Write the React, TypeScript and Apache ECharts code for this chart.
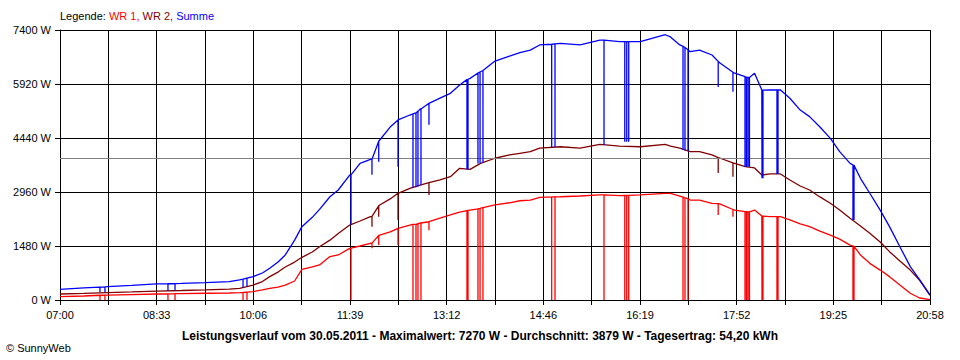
import React, { useEffect, useRef } from 'react';
import * as echarts from 'echarts';

// ---- axis / labels ----
const xTickLabels = ['07:00', '08:33', '10:06', '11:39', '13:12', '14:46', '16:19', '17:52', '19:25', '20:58'];
const totalMinutes = 838; // 07:00 .. 20:58
const gridSteps = 18;
const yMax = 7400;
const yInterval = 1480;
const average = 3879;

const legendText = ['Legende: ', 'WR 1, ', 'WR 2, ', 'Summe'];
const titleText = 'Leistungsverlauf vom 30.05.2011 - Maximalwert: 7270 W - Durchschnitt: 3879 W - Tagesertrag: 54,20 kWh';
const copyrightText = '© SunnyWeb';

// ---- base readings (minutes after 07:00, watts) ----
const times = [0, 23, 46, 69, 93, 117, 140, 163, 173, 186, 195, 202, 210, 217, 226, 233, 243, 250, 260, 268,
  279, 289, 299, 308, 318, 326, 337, 347, 356, 366, 376, 385, 395, 405, 419, 433, 443, 453, 462, 482,
  501, 520, 539, 559, 583, 588, 597, 607, 616, 628, 636, 650, 660, 669, 676, 684, 694, 703, 713, 722,
  732, 742, 751, 761, 771, 780, 790, 799, 809, 819, 828, 838];
const wr1 = [90, 110, 135, 150, 165, 175, 185, 192, 200, 230, 275, 320, 355, 410, 520, 840, 905, 960, 1190, 1235,
  1415, 1480, 1555, 1780, 1865, 1965, 2055, 2110, 2145, 2245, 2330, 2410, 2465, 2515, 2605, 2665, 2720, 2740, 2815, 2830,
  2850, 2880, 2860, 2880, 2925, 2920, 2850, 2740, 2740, 2650, 2630, 2465, 2420, 2465, 2300, 2285, 2285, 2195, 2085, 2010,
  1890, 1780, 1670, 1505, 1235, 1005, 820, 640, 410, 185, 55, 10];
const wr2 = [165, 180, 200, 220, 245, 260, 275, 300, 320, 410, 505, 640, 765, 905, 1040, 1170, 1315, 1460, 1640, 1825,
  2055, 2165, 2285, 2605, 2770, 2925, 3060, 3150, 3215, 3290, 3380, 3610, 3580, 3745, 3885, 3975, 4020, 4065, 4160, 4200,
  4160, 4265, 4220, 4200, 4265, 4220, 4160, 4065, 4065, 3975, 3885, 3745, 3655, 3620, 3425, 3455, 3455, 3290, 3125, 3015,
  2825, 2650, 2465, 2240, 2030, 1830, 1590, 1325, 1070, 820, 540, 125];
const summe = [290, 330, 365, 400, 440, 455, 475, 505, 550, 640, 740, 870, 1040, 1235, 1640, 2010, 2265, 2485, 2830, 3015,
  3425, 3745, 3855, 4385, 4740, 4935, 5070, 5235, 5390, 5535, 5665, 5890, 6075, 6255, 6550, 6685, 6780, 6850, 6990, 7035,
  6990, 7125, 7080, 7080, 7270, 7210, 6990, 6805, 6850, 6715, 6490, 6215, 6120, 6215, 5755, 5755, 5755, 5530, 5205, 5025,
  4740, 4430, 4065, 3745, 3335, 2925, 2465, 2010, 1460, 915, 560, 140];

// ---- dropouts / dips (minutes after 07:00, level before and bottom of the dip) ----
const spikeTimes = [38.5, 43.3, 104, 110.8, 176.3, 180.1, 280.3, 300.5, 307, 325.6, 340, 342.9, 344.8, 347.7, 355.4,
  392, 393, 402.6, 404.6, 407.4, 473.6, 476.8, 524, 544, 545.9, 547.8, 600.1, 602, 604.9, 634, 648.2,
  659.8, 661.2, 662.7, 664.1, 676.2, 677.1, 690.6, 691.6, 763.8, 764.8];
const wr1SpikeTop = [130, 133, 170, 172, 205, 215, 1420, 1560, 1770, 1965, 2070, 2075, 2090, 2110, 2145,
  2450, 2455, 2500, 2510, 2530, 2825, 2828, 2880, 2865, 2865, 2865, 2820, 2800, 2780, 2640, 2480,
  2420, 2420, 2415, 2415, 2300, 2300, 2285, 2285, 1480, 1470];
const wr1SpikeBottom = [0, 0, 0, 0, 0, 0, 0, 1420, 1510, 1510, 0, 0, 0, 0, 1910,
  0, 0, 0, 0, 0, 0, 0, 0, 0, 0, 0, 0, 0, 0, 2330, 2280,
  0, 0, 0, 0, 0, 0, 0, 0, 0, 0];
const wr2SpikeTop = [null, null, null, null, null, null, null, 2290, 2580, 2925, null, null, null, null, 3215,
  null, null, null, null, null, null, null, null, null, null, null, null, null, null, 3900, 3760,
  null, null, null, null, null, null, null, null, null, null];
const wr2SpikeBottom = [null, null, null, null, null, null, null, 2010, 2285, 2195, null, null, null, null, 2880,
  null, null, null, null, null, null, null, null, null, null, null, null, null, null, 3480, 3380,
  null, null, null, null, null, null, null, null, null, null];
const sumSpikeTop = [355, 360, 445, 450, 570, 600, 3430, 3860, 4350, 4935, 5100, 5130, 5170, 5235, 5390,
  6040, 6050, 6220, 6250, 6290, 7010, 7020, 7120, 7080, 7080, 7080, 6950, 6920, 6860, 6540, 6240,
  6120, 6110, 6100, 6100, 5750, 5750, 5755, 5755, 3700, 3690];
const sumSpikeBottom = [210, 215, 255, 258, 340, 370, 2060, 3430, 3790, 3655, 3075, 3090, 3110, 3150, 4800,
  3580, 3585, 3740, 3745, 3760, 4180, 4190, 4250, 4340, 4340, 4340, 4110, 4100, 4080, 5840, 5710,
  3650, 3650, 3650, 3650, 3340, 3340, 3455, 3455, 2195, 2190];

const colors = { wr1: '#ff0000', wr2: '#800000', summe: '#0000ff', avg: '#808080' };
const FONT = '"Liberation Sans", Arial, sans-serif';

const toX = (t: number) => (t * gridSteps) / totalMinutes;

function buildSeries(base: number[], tops: (number | null)[], bottoms: (number | null)[]) {
  const pts: [number, number][] = base.map((v, i) => [toX(times[i]), v]);
  spikeTimes.forEach((t, i) => {
    const a = tops[i];
    const b = bottoms[i];
    if (a == null || b == null) return;
    const x = toX(t);
    pts.push([x, a], [x, b], [x, a]);
  });
  pts.sort((p, q) => p[0] - q[0]);
  return pts;
}

export default function App() {
  const ref = useRef<HTMLDivElement>(null);
  useEffect(() => {
    if (!ref.current) return;
    const chart = echarts.init(ref.current, null, { renderer: 'svg' });
    const lineSeries = (name: string, color: string, data: [number, number][], z: number) => ({
      name,
      type: 'line',
      data,
      showSymbol: false,
      symbol: 'none',
      z,
      lineStyle: { color, width: 1.3 },
      itemStyle: { color },
      silent: true,
    });
    chart.setOption({
      animation: false,
      backgroundColor: '#ffffff',
      grid: { left: 60, right: 30, top: 30, bottom: 60, containLabel: false },
      xAxis: {
        type: 'value',
        min: 0,
        max: gridSteps,
        interval: 1,
        axisLine: { show: true, lineStyle: { color: '#000', width: 1 } },
        axisTick: { show: true, length: 5, lineStyle: { color: '#000' } },
        splitLine: { show: true, lineStyle: { color: '#000', width: 1 } },
        axisLabel: {
          color: '#000',
          fontFamily: FONT,
          fontSize: 11,
          margin: 9,
          formatter: (v: number) => {
            const i = Math.round(v);
            return i % 2 === 0 ? xTickLabels[i / 2] ?? '' : '';
          },
        },
      },
      yAxis: {
        type: 'value',
        min: 0,
        max: yMax,
        interval: yInterval,
        axisLine: { show: true, lineStyle: { color: '#000', width: 1 } },
        axisTick: { show: true, length: 5, lineStyle: { color: '#000' } },
        splitLine: { show: true, lineStyle: { color: '#000', width: 1 } },
        axisLabel: {
          color: '#000',
          fontFamily: FONT,
          fontSize: 11,
          margin: 9,
          formatter: (v: number) => `${v} W`,
        },
      },
      series: [
        {
          ...lineSeries('WR 1', colors.wr1, buildSeries(wr1, wr1SpikeTop, wr1SpikeBottom), 3),
        },
        {
          ...lineSeries('WR 2', colors.wr2, buildSeries(wr2, wr2SpikeTop, wr2SpikeBottom), 4),
        },
        {
          ...lineSeries('Summe', colors.summe, buildSeries(summe, sumSpikeTop, sumSpikeBottom), 5),
          markLine: {
            silent: true,
            symbol: 'none',
            label: { show: false },
            lineStyle: { color: colors.avg, type: 'solid', width: 1 },
            data: [{ yAxis: average }],
          },
        },
      ],
      graphic: [
        {
          type: 'text',
          left: 60,
          top: 10,
          style: {
            text: `{k|${legendText[0]}}{a|${legendText[1]}}{b|${legendText[2]}}{c|${legendText[3]}}`,
            fontFamily: FONT,
            fontSize: 11,
            rich: {
              k: { fill: '#000', fontFamily: FONT, fontSize: 11 },
              a: { fill: colors.wr1, fontFamily: FONT, fontSize: 11 },
              b: { fill: colors.wr2, fontFamily: FONT, fontSize: 11 },
              c: { fill: colors.summe, fontFamily: FONT, fontSize: 11 },
            },
          },
        },
        {
          type: 'text',
          left: 'center',
          top: 330,
          style: { text: titleText, fill: '#000', font: `bold 12px ${FONT}` },
        },
        {
          type: 'text',
          left: 6,
          top: 342,
          style: { text: copyrightText, fill: '#000', font: `11px ${FONT}` },
        },
      ],
    });
    return () => chart.dispose();
  }, []);
  return <div ref={ref} style={{ position: 'fixed', left: 0, top: 0, width: 960, height: 360 }} />;
}
